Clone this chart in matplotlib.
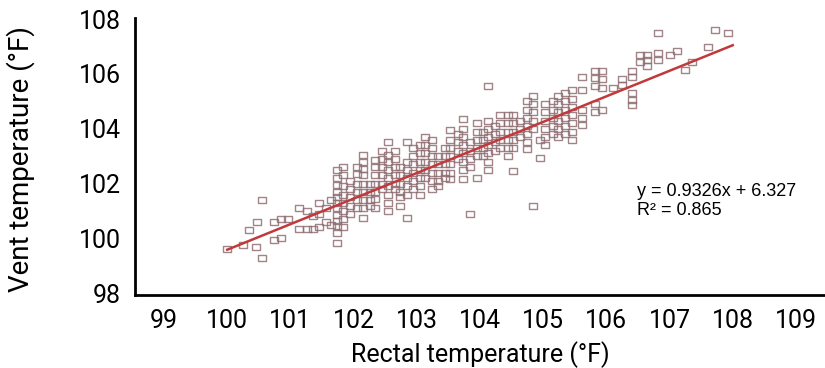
import matplotlib
matplotlib.use("Agg")
import matplotlib.pyplot as plt

# rectal temperature columns (deg F) and the vent readings stacked at each one
rectal_cols = [
    100.0, 100.25, 100.34, 100.46, 100.47, 100.55, 100.74, 100.85, 100.96,
    101.14, 101.26, 101.36, 101.45, 101.56, 101.64, 101.74, 101.83, 101.94,
    102.05, 102.15, 102.26, 102.34, 102.45, 102.54, 102.66, 102.73, 102.84,
    102.94, 103.05, 103.13, 103.24, 103.34, 103.45, 103.53, 103.65, 103.73,
    103.84, 103.95, 104.05, 104.13, 104.24, 104.32, 104.44, 104.52, 104.63,
    104.74, 104.84, 104.95, 105.03, 105.16, 105.23, 105.34, 105.46, 105.61,
    105.82, 105.93, 106.1, 106.25, 106.41, 106.53, 106.64, 106.82, 107.0,
    107.12, 107.24, 107.35, 107.61, 107.72, 107.92,
]
vent_cols = [
    [99.6], [99.75], [100.3], [99.7], [100.6], [99.3, 101.4], [99.95, 100.6],
    [100.0, 100.7], [100.7], [101.1, 100.35], [101.0, 100.35], [100.35, 100.8],
    [100.4, 100.9, 101.3], [100.6, 101.1], [101.4, 100.5],
    [102.5, 102.2, 101.95, 101.7, 101.5, 101.3, 101.1, 100.85, 100.65, 100.45, 100.2, 99.85],
    [102.6, 102.3, 101.9, 101.6, 101.3, 101.0, 100.7, 100.4],
    [102.1, 101.8, 101.5, 101.2, 100.9],
    [102.6, 102.35, 102.0, 101.7, 101.4, 101.1],
    [103.05, 102.8, 102.55, 102.3, 102.0, 101.7, 101.4, 101.1, 100.75],
    [102.0, 101.7, 101.4, 101.2],
    [102.85, 102.6, 102.3, 102.0, 101.7, 101.45, 101.1],
    [103.2, 102.9, 102.6, 102.3, 102.0, 101.8],
    [103.5, 103.05, 102.8, 102.5, 102.2, 101.9, 101.6, 101.3, 101.0],
    [103.2, 102.9, 102.6, 102.3, 102.0, 101.8],
    [102.6, 102.3, 102.0, 101.7, 101.5, 101.2],
    [103.5, 102.8, 102.5, 102.2, 101.9, 101.6, 100.75],
    [103.3, 103.0, 102.7, 102.4, 102.1, 101.8],
    [103.4, 103.1, 102.8, 102.5, 102.2, 101.9, 101.6],
    [103.7, 103.4, 103.1, 102.8, 102.5, 102.2],
    [103.6, 103.3, 103.0, 102.7, 102.4, 102.1, 101.8],
    [103.0, 102.7, 102.4, 102.1, 101.9],
    [103.3, 103.0, 102.7, 102.4, 102.2],
    [103.95, 103.6, 103.3, 103.0, 102.7, 102.4, 102.15],
    [103.8, 103.5, 103.2, 102.9],
    [104.35, 104.0, 103.7, 103.4, 103.1, 102.8, 102.5, 102.15],
    [103.5, 103.2, 102.9, 102.6, 100.9],
    [104.2, 103.9, 103.6, 103.3, 103.0, 102.2],
    [103.9, 103.6, 103.3, 103.0],
    [105.55, 104.3, 104.0, 103.7, 103.4, 103.1, 102.8, 102.5],
    [104.1, 103.8, 103.5, 103.2],
    [104.5, 104.2, 103.9, 103.6, 103.3],
    [104.5, 104.2, 103.9, 103.6, 103.3, 103.0],
    [104.5, 104.2, 103.9, 103.6, 103.3, 102.45],
    [104.3, 104.0, 103.7],
    [105.0, 104.7, 104.4, 104.1, 103.8, 103.5, 103.25],
    [105.2, 104.9, 104.6, 104.3, 104.0, 101.2],
    [103.6, 102.95],
    [104.9, 104.6, 104.3, 104.0, 103.7, 103.4],
    [105.0, 104.7, 104.4, 104.1, 103.8],
    [105.2, 104.9, 104.6, 104.3, 104.0, 103.7],
    [105.3, 105.0, 104.7, 104.4, 104.1, 103.8],
    [105.4, 105.1, 104.8, 104.5, 104.2, 103.9, 103.6],
    [105.9, 105.4, 104.7, 104.4, 104.15],
    [106.1, 105.85, 105.55, 104.9, 104.6],
    [106.1, 105.8, 105.5, 104.7],
    [105.5], [105.8, 105.6], [106.1, 105.9, 105.3, 105.05, 104.85],
    [106.7, 106.45], [106.7, 106.5, 106.3], [107.5, 106.75, 106.5],
    [106.7], [106.85], [106.15], [106.45], [107.0], [107.6], [107.5],
]

slope = 0.9326
intercept = 6.327
r_squared = 0.865
fit_range = [100.0, 108.0]

x_ticks = [99, 100, 101, 102, 103, 104, 105, 106, 107, 108, 109]
y_ticks = [98, 100, 102, 104, 106, 108]

rectal = []
vent = []
for x, ys in zip(rectal_cols, vent_cols):
    for y in ys:
        rectal.append(x)
        vent.append(y)

plt.rcParams["font.family"] = ["Roboto", "DejaVu Sans"]

fig = plt.figure(figsize=(8.25, 3.68), dpi=100)
ax = fig.add_axes([0.1636, 0.198, 0.8364, 0.753])

# slightly flat open rectangles like the original markers
box = [(-1, -0.8), (1, -0.8), (1, 0.8), (-1, 0.8), (-1, -0.8)]
ax.plot(rectal, vent, linestyle="none", marker=box, markersize=5.5,
        markerfacecolor="none", markeredgecolor="#8f6e72",
        markeredgewidth=1.0, alpha=0.85)

fit_y = [slope * x + intercept for x in fit_range]
ax.plot(fit_range, fit_y, color="#c0393b", linewidth=1.8)

ax.set_xlim(98.54, 109.46)
ax.set_ylim(97.93, 108.04)
ax.set_xticks(x_ticks)
ax.set_yticks(y_ticks)
ax.tick_params(length=0, labelsize=18, pad=10)

for side in ["top", "right"]:
    ax.spines[side].set_visible(False)
for side in ["left", "bottom"]:
    ax.spines[side].set_linewidth(2)

ax.set_xlabel("Rectal temperature (°F)", fontsize=18)
ax.set_ylabel("Vent temperature (°F)", fontsize=20)
ax.xaxis.set_label_coords(0.5, -0.165)
ax.yaxis.set_label_coords(-0.145, 0.49)

ax.text(0.727, 0.405, "y = 0.9326x + 6.327\nR² = %.3f" % r_squared,
        transform=ax.transAxes, fontsize=13, family="Liberation Sans",
        va="top", linespacing=1.15)

fig.savefig("out.png", dpi=100)
